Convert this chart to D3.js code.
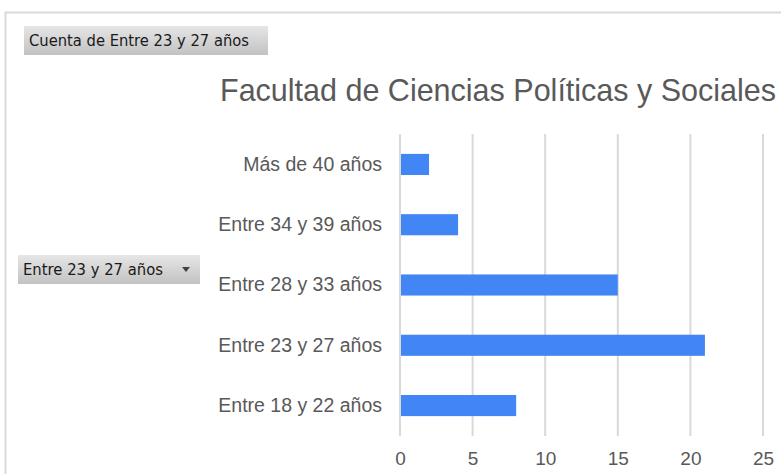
<!DOCTYPE html>
<html>
<head>
<meta charset="utf-8">
<script src="https://d3js.org/d3.v7.min.js"></script>
<style>
  body { margin: 0; background: #fff; }
  svg { display: block; }
</style>
</head>
<body>
<div id="chart"></div>
<script>
(function () {

	var categories = ["Más de 40 años", "Entre 34 y 39 años", "Entre 28 y 33 años", "Entre 23 y 27 años", "Entre 18 y 22 años"];
	var values = [2, 4, 15, 21, 8];
	var tickValues = [0, 5, 10, 15, 20, 25];
	var title = "Facultad de Ciencias Políticas y Sociales";
	var fieldButton = "Cuenta de Entre 23 y 27 años";
	var rowButton = "Entre 23 y 27 años";

	var width = 781, height = 474;
	var margin = {top: 134, left: 400, right: 18, bottom: 38};

	var svg = d3.select("#chart")
		.append("svg")
		.attr("width", width)
		.attr("height", height);

	var defs = svg.append("defs");
	var grad = defs.append("linearGradient")
		.attr("id", "btn")
		.attr("x1", 0).attr("y1", 0).attr("x2", 0).attr("y2", 1);
	grad.append("stop").attr("offset", "0%").attr("stop-color", "#e6e6e6");
	grad.append("stop").attr("offset", "100%").attr("stop-color", "#c2c2c2");

	// sheet border
	svg.append("path")
		.attr("d", "M5.5," + height + "V12.5H" + width)
		.attr("fill", "none")
		.attr("stroke", "#d9d9d9")
		.attr("stroke-width", 2);

	var x = d3.scaleLinear()
		.domain([0, 25])
		.range([margin.left, 763]);

	var y = d3.scaleBand()
		.domain(categories)
		.range([margin.top, height - margin.bottom])
		.paddingInner(0.65)
		.paddingOuter(0.33);

	// gridlines
	svg.append("g")
		.selectAll("line")
		.data(tickValues)
		.enter().append("line")
		.attr("x1", function (d) { return x(d); })
		.attr("x2", function (d) { return x(d); })
		.attr("y1", margin.top)
		.attr("y2", height - margin.bottom)
		.attr("stroke", "#d9d9d9")
		.attr("stroke-width", 2);

	// x axis
	var xAxis = svg.append("g")
		.attr("transform", "translate(0," + (height - margin.bottom) + ")")
		.call(d3.axisBottom(x).tickValues(tickValues).tickSize(0).tickPadding(16));
	xAxis.select(".domain").remove();
	xAxis.selectAll("text")
		.attr("fill", "#595959")
		.style("font-family", "Liberation Sans, Arial, sans-serif")
		.style("font-size", "19px");

	// y axis
	var yAxis = svg.append("g")
		.attr("transform", "translate(" + margin.left + ",0)")
		.call(d3.axisLeft(y).tickSize(0).tickPadding(18));
	yAxis.select(".domain").remove();
	yAxis.selectAll("text")
		.attr("fill", "#595959")
		.style("font-family", "Liberation Sans, Arial, sans-serif")
		.style("font-size", "19.5px");

	// bars
	svg.append("g")
		.selectAll("rect")
		.data(values)
		.enter().append("rect")
		.attr("x", x(0) + 1)
		.attr("y", function (d, i) { return y(categories[i]); })
		.attr("width", function (d) { return x(d) - x(0) - 1; })
		.attr("height", y.bandwidth())
		.attr("fill", "#4285f4");

	// title
	svg.append("text")
		.attr("x", 220)
		.attr("y", 101)
		.attr("fill", "#595959")
		.style("font-family", "Liberation Sans, Arial, sans-serif")
		.style("font-size", "30.5px")
		.text(title);

	// pivot field buttons
	svg.append("rect")
		.attr("x", 24).attr("y", 26)
		.attr("width", 244).attr("height", 29)
		.attr("fill", "url(#btn)");
	svg.append("text")
		.attr("x", 29).attr("y", 46)
		.attr("fill", "#1a1a1a")
		.style("font-family", "DejaVu Sans, sans-serif")
		.style("font-size", "15px")
		.attr("textLength", 220)
		.attr("lengthAdjust", "spacingAndGlyphs")
		.text(fieldButton);

	svg.append("rect")
		.attr("x", 18).attr("y", 255)
		.attr("width", 182).attr("height", 29)
		.attr("fill", "url(#btn)");
	svg.append("text")
		.attr("x", 23).attr("y", 275)
		.attr("fill", "#1a1a1a")
		.style("font-family", "DejaVu Sans, sans-serif")
		.style("font-size", "15px")
		.attr("textLength", 140)
		.attr("lengthAdjust", "spacingAndGlyphs")
		.text(rowButton);
	svg.append("path")
		.attr("d", "M182,267L190,267L186,272Z")
		.attr("fill", "#404040");

})();
</script>
</body>
</html>
